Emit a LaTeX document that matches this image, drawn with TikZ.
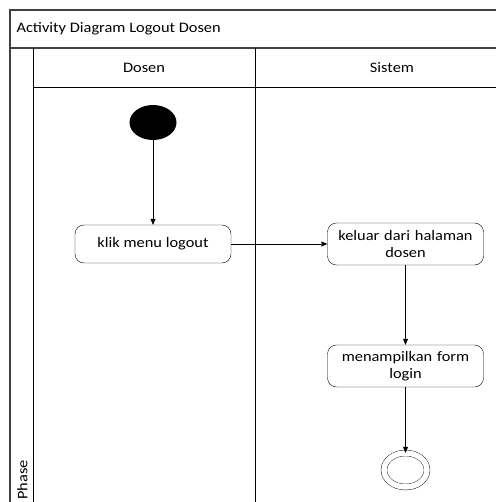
\documentclass[tikz,border=0pt]{standalone}
\usepackage{fontspec}
\setmainfont{Carlito}[FakeStretch=1.13]
\usetikzlibrary{arrows.meta}
\usetikzlibrary{shapes.geometric}

\begin{document}
\begin{tikzpicture}[x=1bp,y=-1bp,
  font=\fontsize{14.5bp}{17bp}\selectfont,
  frame/.style={line width=1.3bp,black!75},
  act/.style={draw,rounded corners=9bp,minimum width=156bp,minimum height=42bp,align=center,inner sep=2bp},
  flow/.style={-{Triangle[length=6bp,width=5bp]}}]

\useasboundingbox (0,0) rectangle (496,502);
\clip (0,0) rectangle (496,502);

\draw[frame] (10,520) -- (10,10) -- (530,10);
\draw[frame] (10,48) -- (530,48);
\draw (33,48) -- (33,520);
\draw (33,87) -- (530,87);
\draw (255,48) -- (255,520);

\node[anchor=west] (judul) at (13,29) {Activity Diagram Logout Dosen};
\node (dosen) at (144,68) {Dosen};
\node (sistem) at (392,68) {Sistem};
\node[rotate=90,anchor=west] (phase) at (22.5,503) {Phase};

\node[ellipse,fill=black,minimum width=47bp,minimum height=35bp,inner sep=0pt] (mulai) at (153,122.5) {};
\node[act,minimum height=38bp] (klik) at (153,244) {klik menu logout};
\node[act,text width=146bp] (keluar) at (405.5,244) {keluar dari halaman\\dosen};
\node[act,text width=146bp] (tampil) at (405.5,366) {menampilkan form\\login};
\node[ellipse,draw,double,double distance=5.5bp,minimum width=43bp,minimum height=34bp,inner sep=0pt] (selesai) at (405.5,470) {};

\draw[flow] (mulai) -- (klik);
\draw[flow] (klik) -- (keluar);
\draw[flow] (keluar) -- (tampil);
\draw[flow] (tampil) -- (selesai);

\end{tikzpicture}
\end{document}
